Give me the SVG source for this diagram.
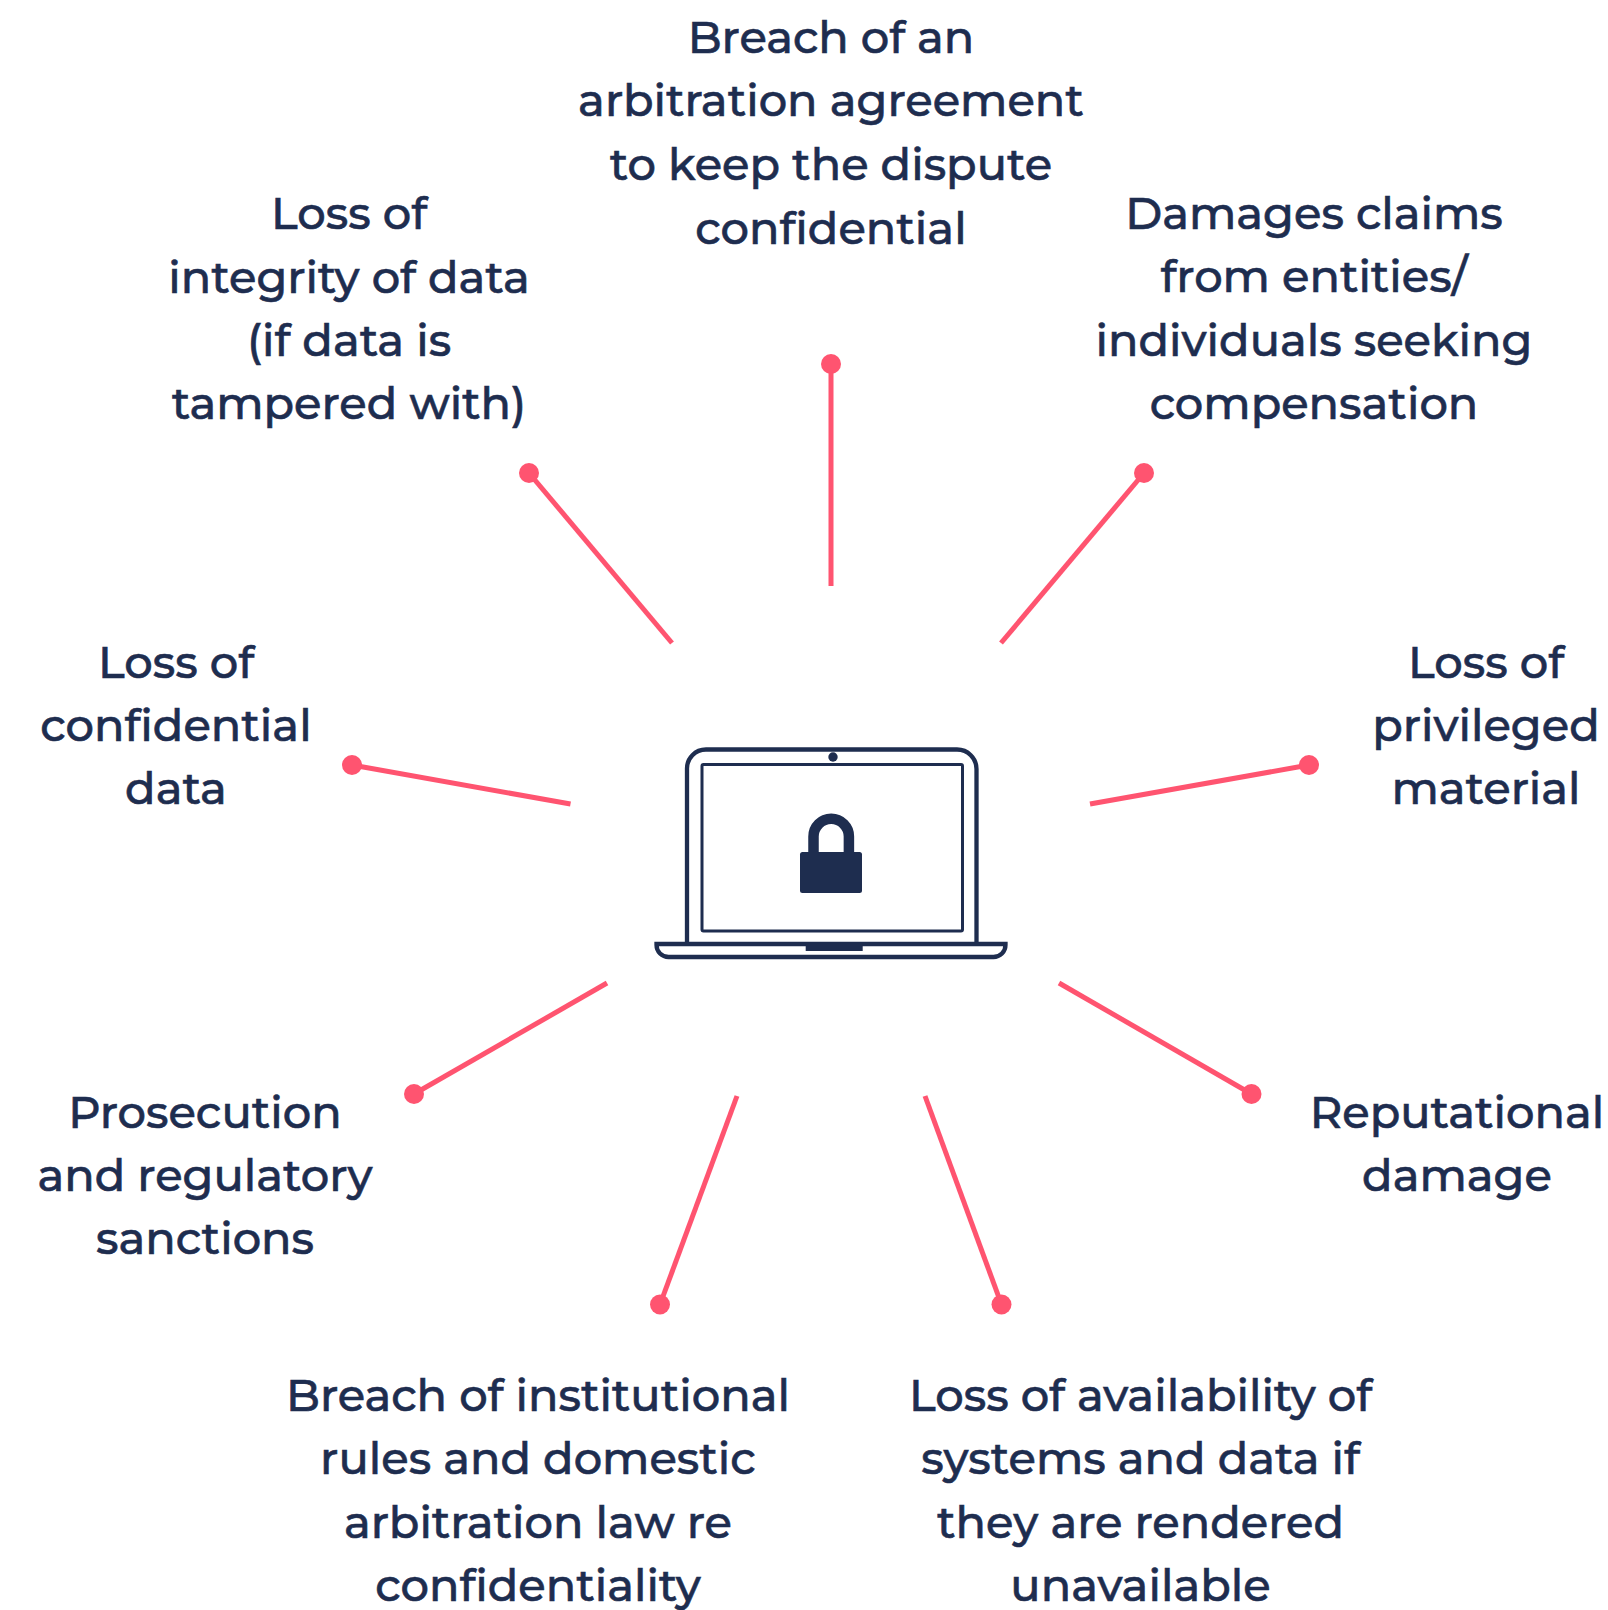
<svg xmlns="http://www.w3.org/2000/svg" width="1608" height="1610" viewBox="0 0 1608 1610">
<style>
.t{font-family:"Montserrat","Inter","Open Sans","Noto Sans",sans-serif;font-size:44.800px;font-weight:500;fill:#1e2d4f;stroke:#1e2d4f;stroke-width:.6px;text-anchor:middle}
.c{stroke:#ff5470;stroke-width:5;fill:none}
.d{fill:#ff5470}
.l{fill:none;stroke:#1e2d4f;stroke-width:4.300}
.s{fill:none;stroke:#1e2d4f;stroke-width:3}
</style>
<rect width="1608" height="1610" fill="#fff"/>
<g id="connectors">
<line class="c" x1="831" y1="586" x2="831" y2="364"/><circle class="d" cx="831" cy="364" r="10"/>
<line class="c" x1="1001" y1="643" x2="1144" y2="473"/><circle class="d" cx="1144" cy="473" r="10"/>
<line class="c" x1="1090" y1="804" x2="1309" y2="765"/><circle class="d" cx="1309" cy="765" r="10"/>
<line class="c" x1="1059" y1="983" x2="1251.500" y2="1094"/><circle class="d" cx="1251.500" cy="1094" r="10"/>
<line class="c" x1="925" y1="1096" x2="1001.500" y2="1304.500"/><circle class="d" cx="1001.500" cy="1304.500" r="10"/>
<line class="c" x1="737" y1="1096" x2="660" y2="1304.500"/><circle class="d" cx="660" cy="1304.500" r="10"/>
<line class="c" x1="607" y1="983" x2="414" y2="1094"/><circle class="d" cx="414" cy="1094" r="10"/>
<line class="c" x1="570.500" y1="804" x2="352" y2="765"/><circle class="d" cx="352" cy="765" r="10"/>
<line class="c" x1="672" y1="643" x2="529" y2="473"/><circle class="d" cx="529" cy="473" r="10"/>
</g>
<g id="laptop">
<path class="l" d="M687 944V769a19 19 0 0 1 19-19.500H957a19.500 19.500 0 0 1 19.500 19.500V944"/>
<rect class="s" x="702" y="764.500" width="260.500" height="166.500" rx="1.500"/>
<circle cx="833" cy="757" r="4.700" fill="#1e2d4f"/>
<path class="l" d="M656.500 944H1005.500V945a12 12 0 0 1-12 12H668.500a12 12 0 0 1-12-12Z"/>
<rect x="805.700" y="944" width="57" height="7" fill="#1e2d4f"/>
<rect x="800" y="852" width="62" height="41" rx="2.500" fill="#1e2d4f"/>
<path d="M813.500 855V836.500a17.700 17.700 0 0 1 35.400 0V855" fill="none" stroke="#1e2d4f" stroke-width="10.500"/>
</g>
<g id="n1"><text class="t" x="831" y="53">Breach of an</text><text class="t" x="831" y="116">arbitration agreement</text><text class="t" x="831" y="180">to keep the dispute</text><text class="t" x="831" y="244">confidential</text></g>
<g id="n2"><text class="t" x="1314" y="229">Damages claims</text><text class="t" x="1314" y="292">from entities/</text><text class="t" x="1314" y="356">individuals seeking</text><text class="t" x="1314" y="419">compensation</text></g>
<g id="n3"><text class="t" x="1486" y="678">Loss of</text><text class="t" x="1486" y="741">privileged</text><text class="t" x="1486" y="804">material</text></g>
<g id="n4"><text class="t" x="1457" y="1128">Reputational</text><text class="t" x="1457" y="1191">damage</text></g>
<g id="n5"><text class="t" x="1140.500" y="1411">Loss of availability of</text><text class="t" x="1140.500" y="1474">systems and data if</text><text class="t" x="1140.500" y="1538">they are rendered</text><text class="t" x="1140.500" y="1601">unavailable</text></g>
<g id="n6"><text class="t" x="538" y="1411">Breach of institutional</text><text class="t" x="538" y="1474">rules and domestic</text><text class="t" x="538" y="1538">arbitration law re</text><text class="t" x="538" y="1601">confidentiality</text></g>
<g id="n7"><text class="t" x="205" y="1128">Prosecution</text><text class="t" x="205" y="1191">and regulatory</text><text class="t" x="205" y="1254">sanctions</text></g>
<g id="n8"><text class="t" x="176" y="678">Loss of</text><text class="t" x="176" y="741">confidential</text><text class="t" x="176" y="804">data</text></g>
<g id="n9"><text class="t" x="349" y="229">Loss of</text><text class="t" x="349" y="293">integrity of data</text><text class="t" x="349" y="356">(if data is</text><text class="t" x="349" y="419">tampered with)</text></g>
</svg>
